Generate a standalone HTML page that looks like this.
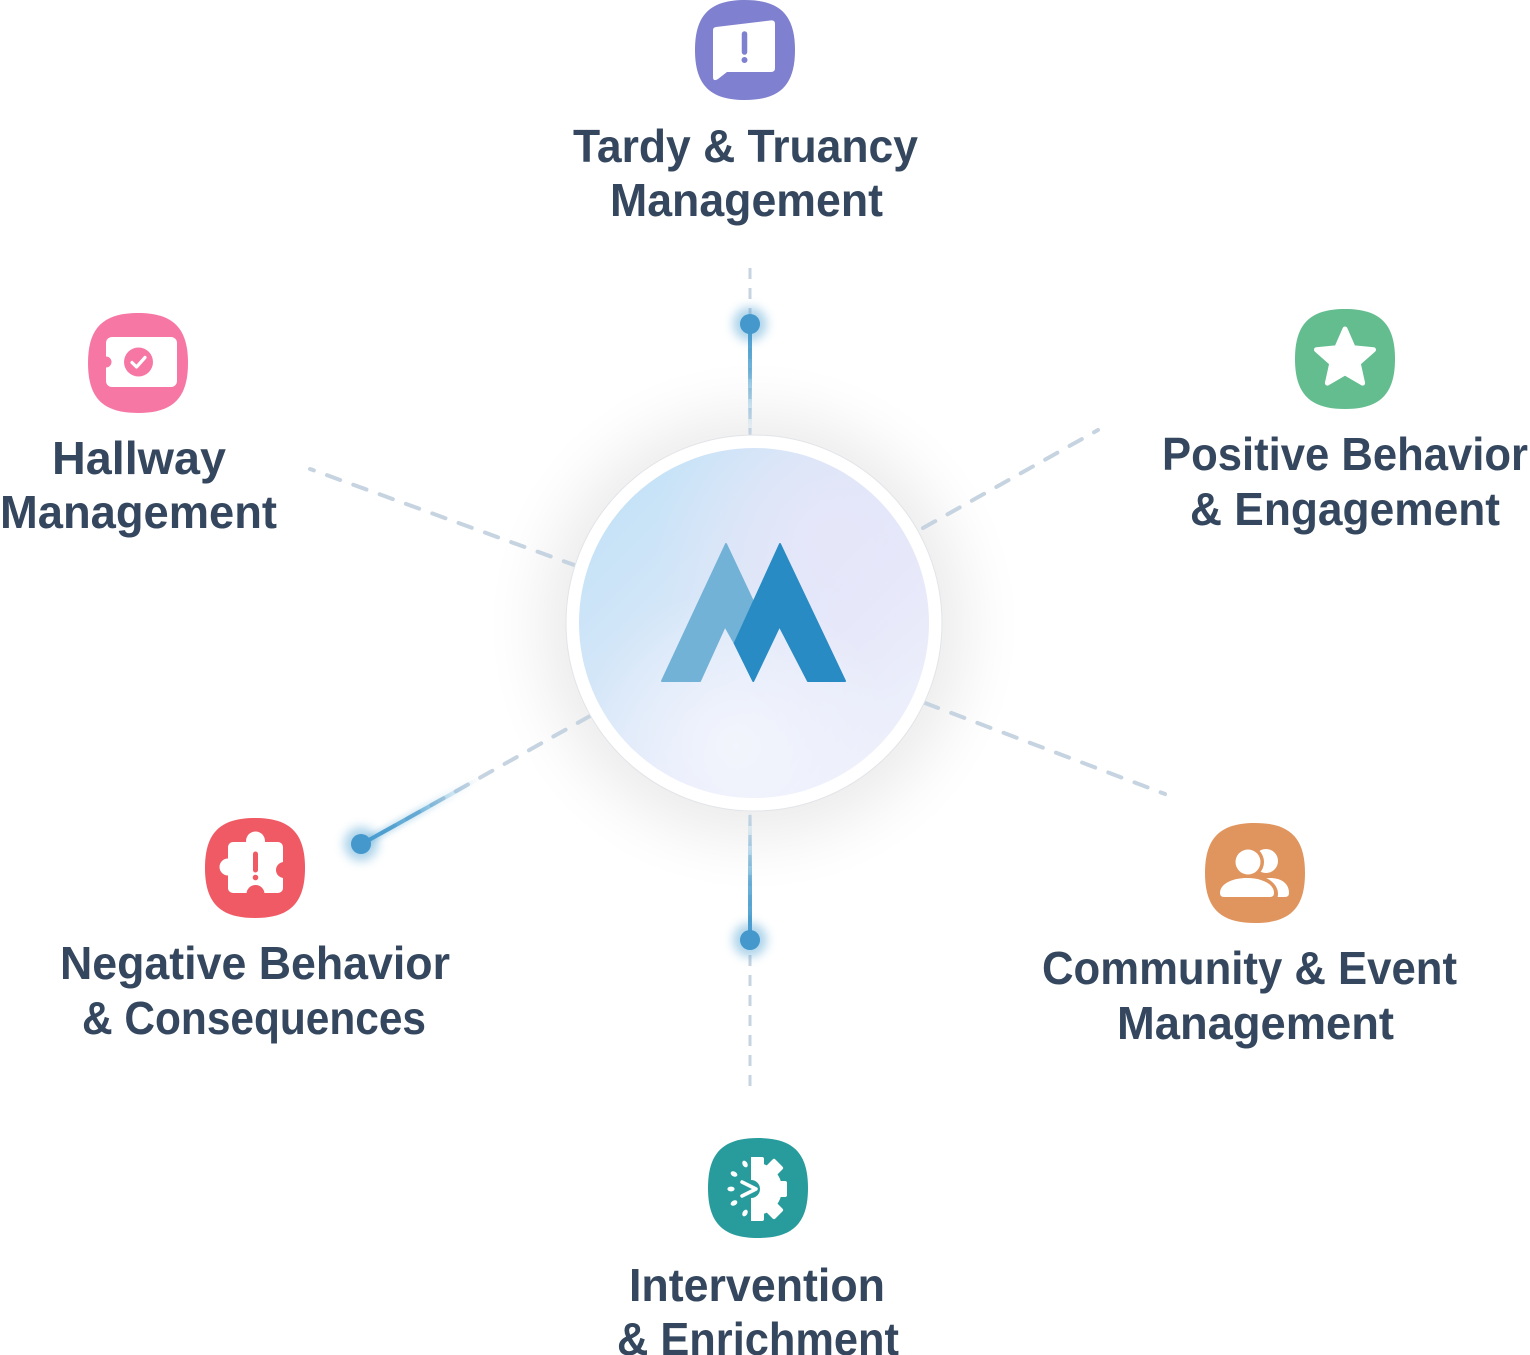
<!DOCTYPE html>
<html>
<head>
<meta charset="utf-8">
<style>
  html,body{margin:0;padding:0;background:#ffffff;}
  body{width:1530px;height:1355px;overflow:hidden;position:relative;}
  svg{position:absolute;left:0;top:0;}
  .lbl{font-family:"Liberation Sans",Arial,sans-serif;font-weight:bold;font-size:46px;fill:#34475e;}
</style>
</head>
<body>
<svg width="1530" height="1355" viewBox="0 0 1530 1355" xmlns="http://www.w3.org/2000/svg">
  <defs>
    <filter id="glow" x="-50%" y="-50%" width="200%" height="200%">
      <feGaussianBlur stdDeviation="32"/>
    </filter>
    <filter id="dotglow" x="-100%" y="-100%" width="300%" height="300%">
      <feGaussianBlur stdDeviation="5"/>
    </filter>
    <filter id="lineglow" x="-50%" y="-50%" width="200%" height="200%">
      <feGaussianBlur stdDeviation="3"/>
    </filter>
    <linearGradient id="inner" x1="0" y1="0" x2="1" y2="1">
      <stop offset="0" stop-color="#bde0f6"/>
      <stop offset="0.35" stop-color="#d3e6f8"/>
      <stop offset="0.65" stop-color="#e6eafa"/>
      <stop offset="1" stop-color="#f1f2fc"/>
    </linearGradient>
    <radialGradient id="lav" cx="0.72" cy="0.25" r="0.5">
      <stop offset="0" stop-color="#e8e6f9" stop-opacity="0.9"/>
      <stop offset="1" stop-color="#e8e6f9" stop-opacity="0"/>
    </radialGradient>
    <radialGradient id="btm" cx="0.45" cy="0.85" r="0.45">
      <stop offset="0" stop-color="#f4f6fd" stop-opacity="0.9"/>
      <stop offset="1" stop-color="#f4f6fd" stop-opacity="0"/>
    </radialGradient>
    <linearGradient id="gTop" gradientUnits="userSpaceOnUse" x1="750" y1="324" x2="750" y2="432">
      <stop offset="0" stop-color="#3f97cc" stop-opacity="1"/>
      <stop offset="0.4" stop-color="#4a9fd0" stop-opacity="0.8"/>
      <stop offset="1" stop-color="#9ccbe6" stop-opacity="0.1"/>
    </linearGradient>
    <linearGradient id="gBot" gradientUnits="userSpaceOnUse" x1="750" y1="940" x2="750" y2="815">
      <stop offset="0" stop-color="#3f97cc" stop-opacity="1"/>
      <stop offset="0.45" stop-color="#4a9fd0" stop-opacity="0.8"/>
      <stop offset="1" stop-color="#9ccbe6" stop-opacity="0.1"/>
    </linearGradient>
    <linearGradient id="gNeg" gradientUnits="userSpaceOnUse" x1="360" y1="845" x2="480" y2="778">
      <stop offset="0" stop-color="#3f97cc" stop-opacity="1"/>
      <stop offset="0.5" stop-color="#4a9fd0" stop-opacity="0.7"/>
      <stop offset="1" stop-color="#9ccbe6" stop-opacity="0"/>
    </linearGradient>
    <path id="sq" d="M50,0 C85,0 100,15 100,50 C100,85 85,100 50,100 C15,100 0,85 0,50 C0,15 15,0 50,0 Z"/>
  </defs>

  <!-- center glow -->
  <circle cx="754" cy="626" r="212" fill="#000" opacity="0.08" filter="url(#glow)"/>

  <!-- dashed connectors -->
  <g stroke="#c6d3e0" fill="none">
    <line x1="750" y1="268" x2="750" y2="436" stroke-width="3" stroke-dasharray="11 9"/>
    <line x1="750" y1="815" x2="750" y2="1088" stroke-width="3" stroke-dasharray="11 9"/>
    <line x1="577" y1="566" x2="310" y2="469" stroke-width="4" stroke-linecap="round" stroke-dasharray="14 14"/>
    <line x1="923" y1="528" x2="1098" y2="430" stroke-width="4" stroke-linecap="round" stroke-dasharray="14 14"/>
    <line x1="925" y1="703" x2="1165" y2="794" stroke-width="4" stroke-linecap="round" stroke-dasharray="14 14"/>
    <line x1="590" y1="716" x2="360" y2="845" stroke-width="4" stroke-linecap="round" stroke-dasharray="14 14"/>
  </g>

  <!-- blue highlighted connectors -->
  <g fill="none" stroke-linecap="round">
    <line x1="750" y1="324" x2="750" y2="432" stroke="url(#gTop)" stroke-width="8" opacity="0.35" filter="url(#lineglow)"/>
    <line x1="750" y1="324" x2="750" y2="432" stroke="url(#gTop)" stroke-width="4"/>
    <line x1="750" y1="940" x2="750" y2="815" stroke="url(#gBot)" stroke-width="8" opacity="0.35" filter="url(#lineglow)"/>
    <line x1="750" y1="940" x2="750" y2="815" stroke="url(#gBot)" stroke-width="4"/>
    <line x1="360" y1="845" x2="480" y2="778" stroke="url(#gNeg)" stroke-width="8" opacity="0.35" filter="url(#lineglow)"/>
    <line x1="360" y1="845" x2="480" y2="778" stroke="url(#gNeg)" stroke-width="4"/>
  </g>
  <g>
    <circle cx="750" cy="324" r="17" fill="#4a9fd0" opacity="0.45" filter="url(#dotglow)"/>
    <circle cx="750" cy="324" r="10" fill="#4498cc"/>
    <circle cx="750" cy="940" r="17" fill="#4a9fd0" opacity="0.45" filter="url(#dotglow)"/>
    <circle cx="750" cy="940" r="10" fill="#4498cc"/>
    <circle cx="361" cy="844" r="17" fill="#4a9fd0" opacity="0.45" filter="url(#dotglow)"/>
    <circle cx="361" cy="844" r="10" fill="#4498cc"/>
  </g>

  <!-- center circle -->
  <circle cx="754" cy="623" r="188" fill="#ffffff" stroke="#e2e4e8" stroke-width="1"/>
  <circle cx="754" cy="623" r="175" fill="url(#inner)"/>
  <circle cx="754" cy="623" r="175" fill="url(#lav)"/>
  <circle cx="754" cy="623" r="175" fill="url(#btm)"/>

  <!-- logo -->
  <g stroke-linejoin="round" stroke-width="2">
    <polygon points="662,681 726,544 753,601.4 734.7,643.3 725,626 700,681" fill="#72b2d7" stroke="#72b2d7"/>
    <polygon points="780,544 845,681 808,681 779.5,626 753.3,681 734.7,643.3" fill="#288bc3" stroke="#288bc3"/>
  </g>

  <!-- Top icon: Tardy -->
  <g transform="translate(695,0)"><use href="#sq" fill="#8080d0"/></g>
  <path d="M716,27 L771,20.4 Q775,20 775,24 L775,68 Q775,72 771,72 L727,72 L718,79 Q713,82 713,77 L713,30 Q713,27.4 716,27 Z" fill="#ffffff"/>
  <line x1="744.5" y1="34" x2="744.5" y2="52" stroke="#8080d0" stroke-width="5.5" stroke-linecap="round"/>
  <circle cx="744.5" cy="60" r="3" fill="#8080d0"/>

  <!-- Hallway icon -->
  <g transform="translate(88,313)"><use href="#sq" fill="#f777a4"/></g>
  <rect x="106" y="337" width="71" height="50" rx="6" fill="#ffffff"/>
  <circle cx="106" cy="362" r="5.5" fill="#f777a4"/>
  <circle cx="138.5" cy="362" r="14.5" fill="#f777a4"/>
  <polyline points="132,362.5 136.5,367 145,357.5" fill="none" stroke="#ffffff" stroke-width="3.2" stroke-linecap="round" stroke-linejoin="round"/>

  <!-- Positive icon -->
  <g transform="translate(1295,309)"><use href="#sq" fill="#63bd8f"/></g>
  <polygon points="1345,329 1353.2,347.7 1373.5,349.7 1358.2,363.2 1362.6,383.1 1345,372.8 1327.4,383.1 1331.8,363.2 1316.5,349.7 1336.8,347.7" fill="#ffffff" stroke="#ffffff" stroke-width="5" stroke-linejoin="round"/>

  <!-- Negative icon -->
  <g transform="translate(205,818)"><use href="#sq" fill="#ef5a64"/></g>
  <rect x="228" y="842" width="55" height="51" rx="5" fill="#ffffff"/>
  <circle cx="255.5" cy="841" r="9.5" fill="#ffffff"/>
  <circle cx="228" cy="867" r="8.5" fill="#ffffff"/>
  <circle cx="284" cy="870" r="8" fill="#ef5a64"/>
  <circle cx="255.5" cy="894" r="9" fill="#ef5a64"/>
  <line x1="255.5" y1="854" x2="255.5" y2="870" stroke="#ef5a64" stroke-width="5" stroke-linecap="round"/>
  <circle cx="255.5" cy="877.5" r="2.8" fill="#ef5a64"/>

  <!-- Community icon -->
  <g transform="translate(1205,823)"><use href="#sq" fill="#e0955f"/></g>
  <circle cx="1266" cy="861" r="12" fill="#ffffff"/>
  <path d="M1242,893 C1242,884 1256,878 1270,878 C1282,878 1289,884 1289,893 Q1289,897 1285,897 L1246,897 Q1242,897 1242,893 Z" fill="#ffffff"/>
  <circle cx="1248" cy="862" r="16" fill="#e0955f"/>
  <path d="M1216,894 C1216,882 1230,874 1247,874 C1264,874 1278,882 1278,894 Q1278,901 1272,901 L1222,901 Q1216,901 1216,894 Z" fill="#e0955f"/>
  <circle cx="1248" cy="862" r="12.5" fill="#ffffff"/>
  <path d="M1220,893 C1220,884 1232,878 1247,878 C1262,878 1274,884 1274,893 Q1274,897 1270,897 L1224,897 Q1220,897 1220,893 Z" fill="#ffffff"/>

  <!-- Intervention icon -->
  <g transform="translate(708,1138)"><use href="#sq" fill="#289c9c"/></g>
  <clipPath id="halfclip"><rect x="751" y="1150" width="45" height="80"/></clipPath>
  <g clip-path="url(#halfclip)" fill="#ffffff">
    <circle cx="756" cy="1189" r="26"/>
    <rect x="748" y="1157" width="16" height="12" rx="2"/>
    <rect x="748" y="1209" width="16" height="12" rx="2"/>
    <rect x="774" y="1181" width="13" height="16" rx="2"/>
    <rect x="767" y="1161" width="14" height="14" rx="2" transform="rotate(45 774 1168)"/>
    <rect x="767" y="1203" width="14" height="14" rx="2" transform="rotate(45 774 1210)"/>
  </g>
  <circle cx="751" cy="1189" r="9" fill="#289c9c"/>
  <polyline points="742,1182 756,1189 742,1196" fill="none" stroke="#ffffff" stroke-width="3.5" stroke-linecap="round" stroke-linejoin="round"/>
  <g fill="#ffffff">
    <ellipse cx="745" cy="1164" rx="2.4" ry="3.6" transform="rotate(-30 745 1164)"/>
    <ellipse cx="734" cy="1174" rx="2.4" ry="3.6" transform="rotate(-60 734 1174)"/>
    <ellipse cx="731" cy="1189" rx="2.4" ry="3.6" transform="rotate(90 731 1189)"/>
    <ellipse cx="734" cy="1203" rx="2.4" ry="3.6" transform="rotate(60 734 1203)"/>
    <ellipse cx="745" cy="1213" rx="2.4" ry="3.6" transform="rotate(30 745 1213)"/>
  </g>

  <!-- Labels -->
  <text class="lbl" x="573" y="162" textLength="345" lengthAdjust="spacingAndGlyphs">Tardy &amp; Truancy</text>
  <text class="lbl" x="610" y="216" textLength="273" lengthAdjust="spacingAndGlyphs">Management</text>

  <text class="lbl" x="52" y="474" textLength="174" lengthAdjust="spacingAndGlyphs">Hallway</text>
  <text class="lbl" x="0" y="528" textLength="277" lengthAdjust="spacingAndGlyphs">Management</text>

  <text class="lbl" x="1162" y="470" textLength="366" lengthAdjust="spacingAndGlyphs">Positive Behavior</text>
  <text class="lbl" x="1190" y="525" textLength="310" lengthAdjust="spacingAndGlyphs">&amp; Engagement</text>

  <text class="lbl" x="60" y="979" textLength="390" lengthAdjust="spacingAndGlyphs">Negative Behavior</text>
  <text class="lbl" x="82" y="1034" textLength="344" lengthAdjust="spacingAndGlyphs">&amp; Consequences</text>

  <text class="lbl" x="1042" y="984" textLength="415" lengthAdjust="spacingAndGlyphs">Community &amp; Event</text>
  <text class="lbl" x="1117" y="1039" textLength="277" lengthAdjust="spacingAndGlyphs">Management</text>

  <text class="lbl" x="629" y="1301" textLength="256" lengthAdjust="spacingAndGlyphs">Intervention</text>
  <text class="lbl" x="617" y="1355" textLength="282" lengthAdjust="spacingAndGlyphs">&amp; Enrichment</text>
</svg>
</body>
</html>
